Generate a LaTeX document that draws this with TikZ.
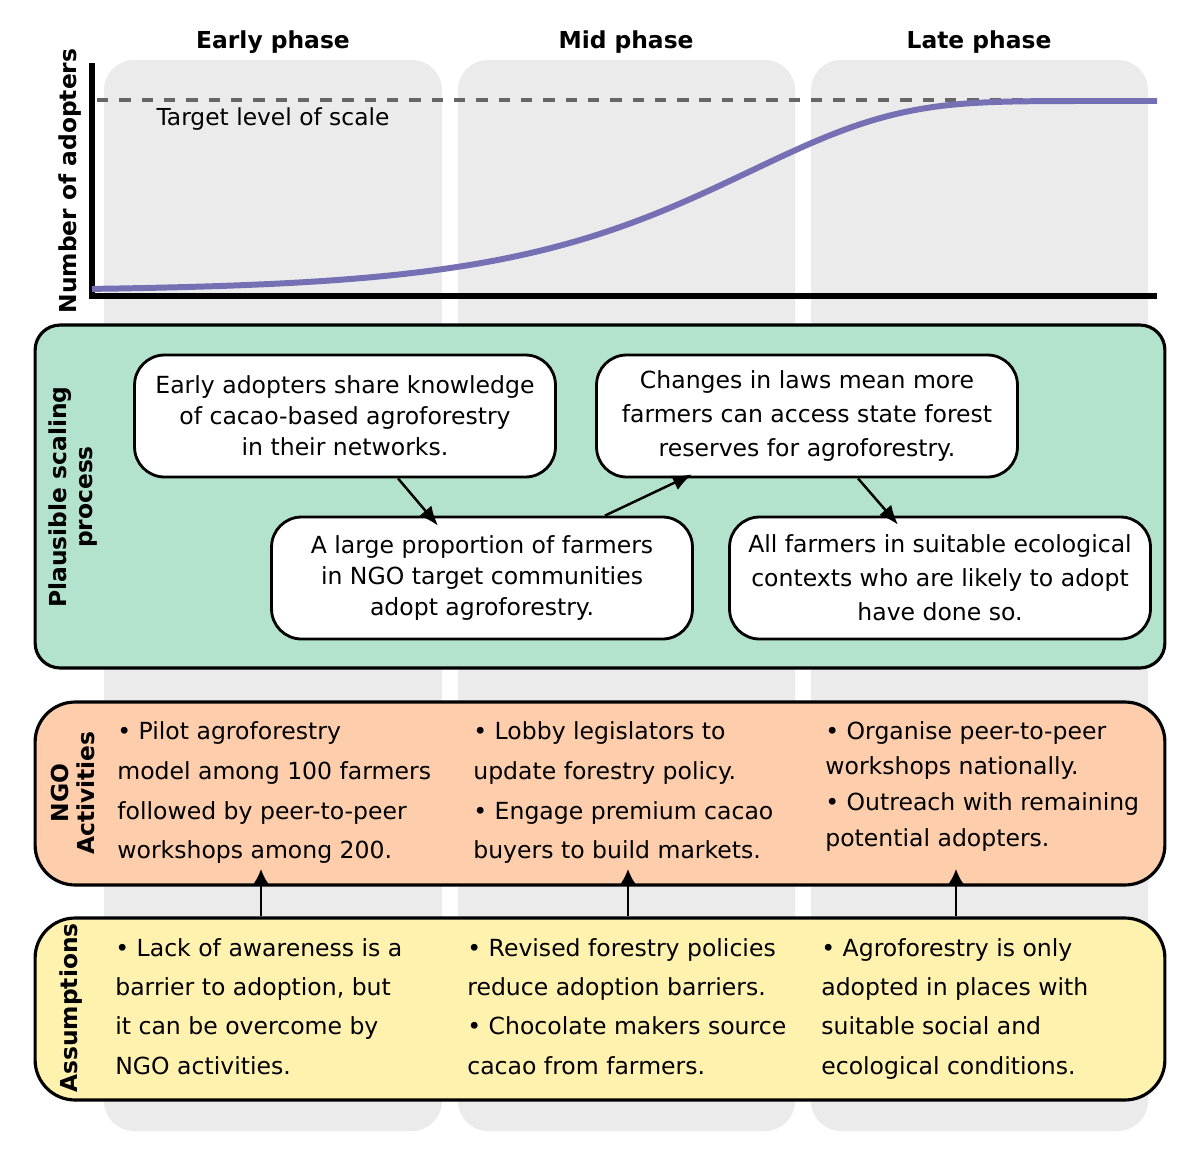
\documentclass[tikz,border=0pt]{standalone}
\usepackage{fontspec}
\setmainfont{DejaVu Sans}
\usepackage{xcolor}
\usetikzlibrary{arrows.meta}
\definecolor{colgray}{RGB}{235,235,235}
\definecolor{curvepurple}{RGB}{117,112,179}
\definecolor{mint}{RGB}{179,226,205}
\definecolor{peach}{RGB}{253,205,172}
\definecolor{cream}{RGB}{255,242,174}
\definecolor{dashgray}{RGB}{102,102,102}

\begin{document}
\begin{tikzpicture}[x=0.02cm, y=-0.02cm,
    phase/.style={fill=colgray, rounded corners=0.6cm},
    head/.style={font=\fontsize{13.3}{16}\selectfont\bfseries},
    claim/.style={draw, line width=1.6pt, fill=white, rounded corners=0.6cm, minimum width=8.42cm, minimum height=2.44cm, align=center, inner sep=0pt},
    panel/.style={draw, line width=1.8pt, minimum width=22.6cm, inner sep=0pt},
    side/.style={rotate=90, align=center, font=\fontsize{13.3}{15.3}\selectfont\bfseries},
    bullets/.style={anchor=north west, inner sep=0pt, align=left},
    arr/.style={-{Latex[length=11pt,width=9pt]}, line width=1.4pt},
    varr/.style={-{Latex[length=9pt,width=9.5pt]}, line width=1.4pt}]
    \useasboundingbox (0,0) rectangle (1200,1163);

    \fill[phase] (104,60) rectangle (442,1131);
    \fill[phase] (458,60) rectangle (795,1131);
    \fill[phase] (811,60) rectangle (1148,1131);

    \node[head] (early) at (273,42) {Early phase};
    \node[head] (mid) at (626,42) {Mid phase};
    \node[head] (late) at (979,42) {Late phase};

    \draw[dashgray, line width=2.3pt, dash pattern=on 6.5pt off 6.2pt] (97,100) -- (1157,100);
    \node[font=\fontsize{13.3}{16}\selectfont] (target) at (273,119) {Target level of scale};
    \draw[line width=3.5pt] (92,63) -- (92,299);
    \draw[line width=3.5pt] (89,296) -- (1157,296);
    \node[head, rotate=90] (adopters) at (70,181) {Number of adopters};
    \draw[curvepurple, line width=3.4pt] plot[domain=92:1157, samples=120] (\x, {101 + 190*exp(-exp((\x-751)/147))});

    \node[panel, fill=mint, minimum height=6.86cm, rounded corners=0.5cm] (process) at (600,496.5) {};
    \node[panel, fill=peach, minimum height=3.66cm, rounded corners=0.8cm] (ngo) at (600,793.5) {};
    \node[panel, fill=cream, minimum height=3.64cm, rounded corners=0.8cm] (assum) at (600,1009) {};

    \node[side] (procLbl) at (73,497) {Plausible scaling\\process};
    \node[side] (ngoLbl) at (73,793) {NGO\\Activities};
    \node[side] (assLbl) at (71,1008) {Assumptions};

    \node[claim, font=\fontsize{13.4}{17.6}\selectfont] (share) at (345,416) {Early adopters share knowledge\\of cacao-based agroforestry\\in their networks.};
    \node[claim, font=\fontsize{13.4}{17.6}\selectfont] (large) at (482,578) {A large proportion of farmers\\in NGO target communities\\adopt agroforestry.};
    \node[claim, font=\fontsize{13.4}{19.3}\selectfont] (laws) at (807,416) {Changes in laws mean more\\farmers can access state forest\\reserves for agroforestry.};
    \node[claim, font=\fontsize{13.4}{19.3}\selectfont] (all) at (940,578) {All farmers in suitable ecological\\contexts who are likely to adopt\\have done so.};

    \draw[arr] ([xshift=1.06cm]share.south) -- ([xshift=-0.88cm, yshift=-0.2cm]large.north);
    \draw[arr] ([xshift=2.46cm]large.north) -- ([xshift=-2.3cm, yshift=0.08cm]laws.south);
    \draw[arr] ([xshift=1.02cm]laws.south) -- ([xshift=-0.84cm, yshift=-0.18cm]all.north);

    \node[bullets, font=\fontsize{13.4}{22.7}\selectfont] (ngoEarly) at (117,721) {• Pilot agroforestry\\model among 100 farmers\\followed by peer-to-peer\\workshops among 200.};
    \node[bullets, font=\fontsize{13.4}{22.7}\selectfont] (ngoMid) at (473,721) {• Lobby legislators to\\update forestry policy.\\• Engage premium cacao\\buyers to build markets.};
    \node[bullets, font=\fontsize{13.4}{20.3}\selectfont] (ngoLate) at (825,721) {• Organise peer-to-peer\\workshops nationally.\\• Outreach with remaining\\potential adopters.};

    \node[bullets, font=\fontsize{13.4}{22.4}\selectfont] (assEarly) at (115,938) {• Lack of awareness is a\\barrier to adoption, but\\it can be overcome by\\NGO activities.};
    \node[bullets, font=\fontsize{13.4}{22.4}\selectfont] (assMid) at (467,938) {• Revised forestry policies\\reduce adoption barriers.\\• Chocolate makers source\\cacao from farmers.};
    \node[bullets, font=\fontsize{13.4}{22.4}\selectfont] (assLate) at (821,938) {• Agroforestry is only\\adopted in places with\\suitable social and\\ecological conditions.};

    \coordinate (upEarly) at (261,869);
    \coordinate (upMid) at (628,869);
    \coordinate (upLate) at (956,869);
    \draw[varr] (upEarly |- assum.north) -- (upEarly);
    \draw[varr] (upMid |- assum.north) -- (upMid);
    \draw[varr] (upLate |- assum.north) -- (upLate);
\end{tikzpicture}
\end{document}
